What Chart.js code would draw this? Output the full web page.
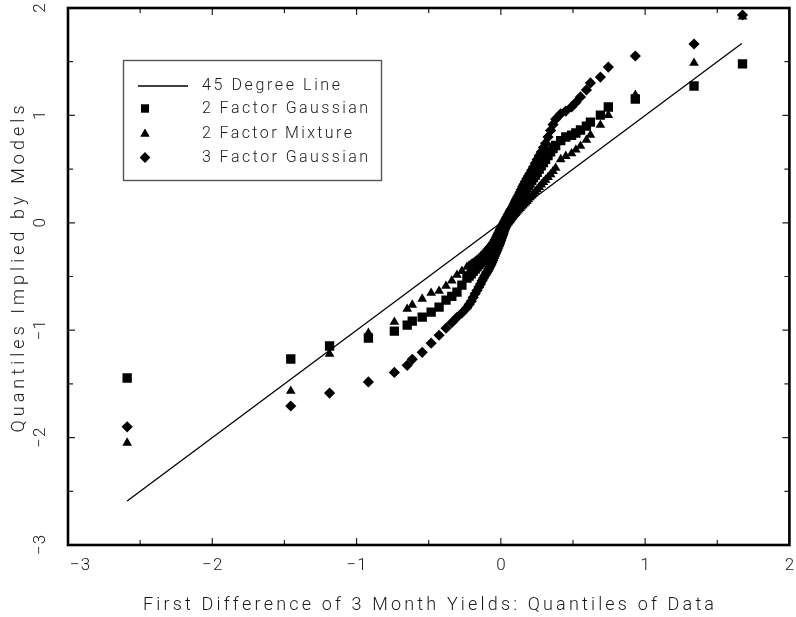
<!DOCTYPE html>
<html>
<head>
<meta charset="utf-8">
<script src="https://cdn.jsdelivr.net/npm/chart.js@4/dist/chart.umd.min.js"></script>
<style>
  html, body { margin: 0; padding: 0; background: #ffffff; }
  #wrap { width: 796px; height: 617px; }
</style>
</head>
<body>
<div id="wrap"><canvas id="c" width="796" height="617"></canvas></div>
<script>
// ---- Data ----
const dataQuantiles = [
  -2.590, -1.456, -1.187, -0.918, -0.738, -0.649, -0.614, -0.545, -0.483, -0.428,
  -0.380, -0.340, -0.304, -0.270, -0.235, -0.220, -0.205, -0.192, -0.178, -0.165,
  -0.152, -0.141, -0.130, -0.120, -0.110, -0.101, -0.092, -0.084, -0.076, -0.069,
  -0.062, -0.056, -0.050, -0.044, -0.038, -0.032, -0.027, -0.022, -0.017, -0.012,
  -0.008, -0.004, 0.000, 0.004, 0.008, 0.012, 0.016, 0.020, 0.024, 0.028,
  0.032, 0.036, 0.040, 0.044, 0.048, 0.052, 0.056, 0.060, 0.064, 0.068,
  0.072, 0.077, 0.082, 0.088, 0.094, 0.101, 0.108, 0.116, 0.124, 0.133,
  0.142, 0.151, 0.160, 0.170, 0.180, 0.191, 0.202, 0.214, 0.226, 0.239,
  0.252, 0.266, 0.280, 0.295, 0.310, 0.327, 0.345, 0.362, 0.380, 0.415,
  0.450, 0.490, 0.520, 0.552, 0.593, 0.621, 0.690, 0.745, 0.932, 1.339,
  1.675
];
const gaussian2Factor = [
  -1.445, -1.268, -1.147, -1.073, -1.009, -0.953, -0.916, -0.879, -0.832, -0.785,
  -0.720, -0.685, -0.645, -0.580, -0.514, -0.495, -0.475, -0.452, -0.430, -0.410,
  -0.390, -0.372, -0.355, -0.337, -0.320, -0.305, -0.290, -0.275, -0.260, -0.248,
  -0.235, -0.222, -0.210, -0.195, -0.180, -0.165, -0.150, -0.137, -0.125, -0.112,
  -0.100, -0.090, -0.080, -0.070, -0.060, -0.050, -0.040, -0.030, -0.020, -0.010,
  0.000, 0.010, 0.020, 0.030, 0.040, 0.050, 0.060, 0.070, 0.080, 0.087,
  0.095, 0.105, 0.115, 0.130, 0.145, 0.160, 0.175, 0.192, 0.210, 0.230,
  0.250, 0.270, 0.290, 0.310, 0.330, 0.350, 0.370, 0.395, 0.420, 0.445,
  0.470, 0.500, 0.530, 0.560, 0.590, 0.625, 0.660, 0.690, 0.720, 0.765,
  0.799, 0.815, 0.836, 0.864, 0.900, 0.938, 1.003, 1.078, 1.153, 1.274,
  1.479
];
const mixture2Factor = [
  -2.050, -1.566, -1.222, -1.026, -0.924, -0.803, -0.765, -0.709, -0.654, -0.635,
  -0.589, -0.540, -0.486, -0.450, -0.412, -0.398, -0.385, -0.372, -0.360, -0.345,
  -0.330, -0.315, -0.300, -0.285, -0.270, -0.257, -0.245, -0.232, -0.220, -0.210,
  -0.200, -0.190, -0.180, -0.170, -0.160, -0.150, -0.140, -0.130, -0.120, -0.112,
  -0.105, -0.097, -0.090, -0.082, -0.075, -0.067, -0.060, -0.052, -0.045, -0.037,
  -0.030, -0.022, -0.015, -0.007, 0.000, 0.008, 0.015, 0.022, 0.030, 0.037,
  0.045, 0.052, 0.060, 0.070, 0.080, 0.090, 0.100, 0.112, 0.125, 0.137,
  0.150, 0.162, 0.175, 0.187, 0.200, 0.217, 0.235, 0.252, 0.270, 0.290,
  0.310, 0.332, 0.355, 0.378, 0.400, 0.425, 0.450, 0.480, 0.510, 0.590,
  0.620, 0.645, 0.680, 0.715, 0.771, 0.817, 0.910, 1.003, 1.190, 1.488,
  1.920
];
const gaussian3Factor = [
  -1.900, -1.706, -1.585, -1.482, -1.393, -1.327, -1.271, -1.206, -1.121, -1.047,
  -0.981, -0.930, -0.880, -0.840, -0.790, -0.760, -0.730, -0.695, -0.660, -0.630,
  -0.598, -0.570, -0.540, -0.515, -0.490, -0.470, -0.450, -0.430, -0.410, -0.390,
  -0.370, -0.350, -0.330, -0.310, -0.290, -0.272, -0.255, -0.237, -0.220, -0.205,
  -0.190, -0.175, -0.160, -0.145, -0.130, -0.115, -0.100, -0.083, -0.065, -0.048,
  -0.030, -0.012, 0.005, 0.020, 0.035, 0.049, 0.063, 0.077, 0.090, 0.102,
  0.115, 0.130, 0.145, 0.162, 0.180, 0.200, 0.220, 0.240, 0.260, 0.285,
  0.310, 0.335, 0.360, 0.385, 0.410, 0.435, 0.460, 0.490, 0.520, 0.555,
  0.590, 0.625, 0.660, 0.700, 0.740, 0.800, 0.860, 0.915, 0.965, 1.015,
  1.040, 1.079, 1.120, 1.172, 1.237, 1.302, 1.357, 1.450, 1.553, 1.665,
  1.935
];
const lineEnds = [-2.59, 1.67];
const xTickValues = [-3, -2, -1, 0, 1, 2];
const yTickValues = [-3, -2, -1, 0, 1, 2];
const seriesNames = ["45 Degree Line", "2 Factor Gaussian", "2 Factor Mixture", "3 Factor Gaussian"];
const xTitle = "First Difference of 3 Month Yields: Quantiles of Data";
const yTitle = "Quantiles Implied by Models";

// ---- helpers ----
const FONT_FAMILY = "Roboto, 'DejaVu Sans', sans-serif";
const TEXT_COLOR = "#1a1a1a";
function pts(ys) { return dataQuantiles.map((x, i) => ({ x: x, y: ys[i] })); }
function fmt(v) { return v < 0 ? "\u2212" + Math.abs(v) : String(v); }

function spacedWidth(ctx, text, spacing) {
  let w = 0;
  for (const ch of text) w += ctx.measureText(ch).width;
  return w + spacing * (Array.from(text).length - 1);
}
function drawSpaced(ctx, text, left, y, spacing) {
  let x = left;
  for (const ch of text) {
    ctx.fillText(ch, x, y);
    x += ctx.measureText(ch).width + spacing;
  }
}
function spacingFor(ctx, text, target) {
  let w = 0;
  for (const ch of text) w += ctx.measureText(ch).width;
  const n = Array.from(text).length - 1;
  return n > 0 ? (target - w) / n : 0;
}

const decorPlugin = {
  id: "decor",
  afterDraw(chart) {
    const ctx = chart.ctx;
    const a = chart.chartArea;
    const xs = chart.scales.x, ys = chart.scales.y;
    ctx.save();

    // ticks (inward) on all four sides
    ctx.strokeStyle = "#222";
    ctx.lineWidth = 1.2;
    for (let v = -3; v <= 2.0001; v += 0.5) {
      const major = Math.abs(v - Math.round(v)) < 1e-6;
      const len = major ? 7 : 5;
      const px = xs.getPixelForValue(v);
      const py = ys.getPixelForValue(v);
      ctx.beginPath();
      ctx.moveTo(px, a.bottom); ctx.lineTo(px, a.bottom - len);
      ctx.moveTo(px, a.top); ctx.lineTo(px, a.top + len);
      ctx.moveTo(a.left, py); ctx.lineTo(a.left + len, py);
      ctx.moveTo(a.right, py); ctx.lineTo(a.right - len, py);
      ctx.stroke();
    }

    // frame
    ctx.strokeStyle = "#000";
    ctx.lineWidth = 2.6;
    ctx.strokeRect(a.left, a.top, a.right - a.left, a.bottom - a.top);

    // x tick labels
    ctx.fillStyle = TEXT_COLOR;
    ctx.font = "300 17px " + FONT_FAMILY;
    ctx.textBaseline = "middle";
    ctx.textAlign = "left";
    xTickValues.forEach(v => {
      const t = fmt(v);
      const w = spacedWidth(ctx, t, 1);
      let left = xs.getPixelForValue(v) - w / 2;
      if (left < a.left + 2) left = a.left + 2;
      if (left + w > 795) left = 795 - w;
      drawSpaced(ctx, t, left, 566, 1);
    });

    // y tick labels (rotated)
    yTickValues.forEach(v => {
      const t = fmt(v);
      const w = spacedWidth(ctx, t, 1);
      let cy = ys.getPixelForValue(v);
      if (cy - w / 2 < 2) cy = 2 + w / 2;
      ctx.save();
      ctx.translate(41, cy);
      ctx.rotate(-Math.PI / 2);
      drawSpaced(ctx, t, -w / 2, 0, 1);
      ctx.restore();
    });

    // axis titles
    ctx.font = "300 18px " + FONT_FAMILY;
    let sp = spacingFor(ctx, xTitle, 571);
    drawSpaced(ctx, xTitle, 143, 605, sp);

    sp = spacingFor(ctx, yTitle, 327);
    ctx.save();
    ctx.translate(19, 269);
    ctx.rotate(-Math.PI / 2);
    drawSpaced(ctx, yTitle, -327 / 2, 0, sp);
    ctx.restore();

    // legend
    ctx.strokeStyle = "#555";
    ctx.lineWidth = 1.4;
    ctx.strokeRect(123.5, 60.5, 258, 120);
    ctx.strokeStyle = "#000";
    ctx.lineWidth = 1.3;
    ctx.beginPath();
    ctx.moveTo(138, 86); ctx.lineTo(188, 86);
    ctx.stroke();
    const rows = [86, 108.5, 134, 157.5];
    const targets = [138, 166, 150, 166];
    ctx.font = "300 16px " + FONT_FAMILY;
    ctx.fillStyle = TEXT_COLOR;
    seriesNames.forEach((n, i) => {
      const s = spacingFor(ctx, n, targets[i]);
      drawSpaced(ctx, n, 202, rows[i], s);
    });
    const styles = [null, ["rect", 5.6], ["triangle", 5.2], ["rectRot", 5.2]];
    ctx.fillStyle = "#000";
    for (let i = 1; i < 4; i++) {
      Chart.helpers.drawPoint(ctx, { pointStyle: styles[i][0], radius: styles[i][1], borderWidth: 0, rotation: 0 }, 145, rows[i]);
      ctx.fill();
    }
    ctx.restore();
  }
};

const ctx = document.getElementById("c").getContext("2d");
new Chart(ctx, {
  type: "scatter",
  data: {
    datasets: [
      {
        label: seriesNames[0],
        data: lineEnds.map(v => ({ x: v, y: v })),
        showLine: true,
        borderColor: "#000",
        borderWidth: 1.3,
        pointRadius: 0,
        fill: false,
        order: 4
      },
      {
        label: seriesNames[1],
        data: pts(gaussian2Factor),
        pointStyle: "rect",
        pointRadius: 6.6,
        pointBorderWidth: 0,
        backgroundColor: "#000",
        borderColor: "#000",
        order: 3
      },
      {
        label: seriesNames[2],
        data: pts(mixture2Factor),
        pointStyle: "triangle",
        pointRadius: 5.6,
        pointBorderWidth: 0,
        backgroundColor: "#000",
        borderColor: "#000",
        order: 2
      },
      {
        label: seriesNames[3],
        data: pts(gaussian3Factor),
        pointStyle: "rectRot",
        pointRadius: 5.6,
        pointBorderWidth: 0,
        backgroundColor: "#000",
        borderColor: "#000",
        order: 1
      }
    ]
  },
  options: {
    responsive: false,
    animation: false,
    devicePixelRatio: 1,
    layout: { padding: { top: 8, right: 5, left: 0, bottom: 0 } },
    plugins: { legend: { display: false }, tooltip: { enabled: false } },
    scales: {
      x: {
        type: "linear", min: -3, max: 2,
        grid: { display: false }, border: { display: false },
        ticks: { display: false },
        afterFit(s) { s.height = 72; }
      },
      y: {
        type: "linear", min: -3, max: 2,
        grid: { display: false }, border: { display: false },
        ticks: { display: false },
        afterFit(s) { s.width = 68; }
      }
    }
  },
  plugins: [decorPlugin]
});
</script>
</body>
</html>
